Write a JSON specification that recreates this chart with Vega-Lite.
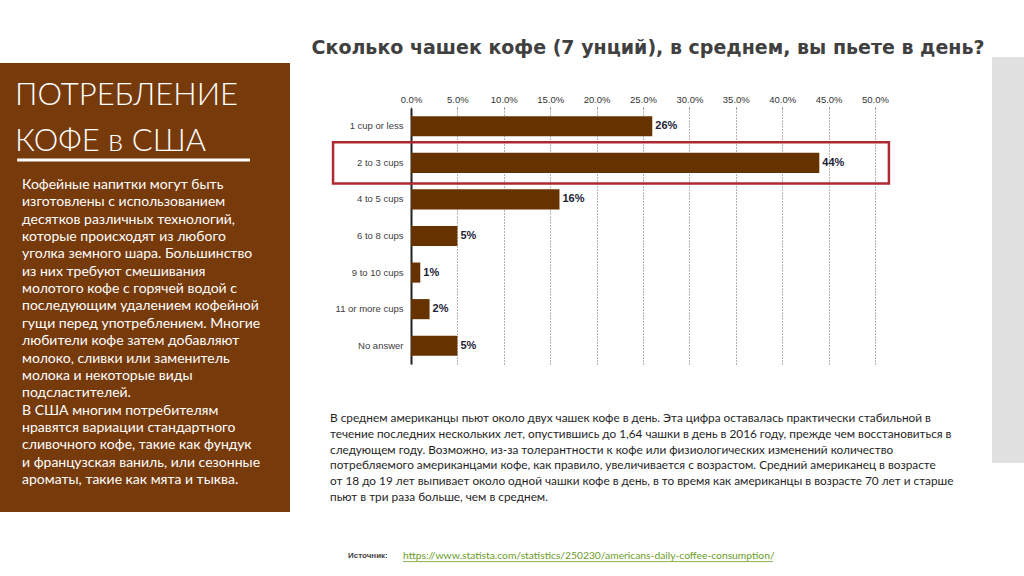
{
  "$schema": "https://vega.github.io/schema/vega-lite/v6.json",
  "padding": 0,
  "background": "#ffffff",
  "config": {"view": {"stroke": null}, "font": "Liberation Sans"},
  "bounds": "flush",
  "spacing": 0,
  "hconcat": [
    {
      "bounds": "flush",
      "spacing": 0,
      "vconcat": [
        {"width": 290, "height": 63, "data": {"values": []}, "mark": "point"},
        {
          "width": 290,
          "height": 449,
          "view": {"fill": "#773a0b", "stroke": null},
          "layer": [
            {
              "data": {"values": [{"i": 0, "t": "ПОТРЕБЛЕНИЕ"}, {"i": 1, "t": "КОФЕ в США"}]},
              "mark": {"type": "text", "align": "left", "baseline": "alphabetic", "font": "Lato", "fontSize": 31, "fontWeight": 300, "color": "#ffffff"},
              "encoding": {
                "x": {"datum": 0.052, "type": "quantitative", "scale": {"domain": [0, 1]}, "axis": null},
                "y": {"field": "i", "type": "ordinal", "axis": null, "scale": {"type": "point", "padding": 0, "range": [42, 88]}},
                "text": {"field": "t"}
              }
            },
            {
              "data": {"values": [{"mark": "underline"}]},
              "mark": {"type": "rule", "color": "#ffffff", "strokeWidth": 3},
              "encoding": {
                "x": {"datum": 0.059, "type": "quantitative", "scale": {"domain": [0, 1]}, "axis": null},
                "x2": {"datum": 0.862},
                "y": {"datum": 0.216, "type": "quantitative", "scale": {"domain": [0, 1], "reverse": true}, "axis": null}
              }
            },
            {
              "data": {"values": [
                {"i": 1, "t": "Кофейные напитки могут быть"},
                {"i": 2, "t": "изготовлены с использованием"},
                {"i": 3, "t": "десятков различных технологий,"},
                {"i": 4, "t": "которые происходят из любого"},
                {"i": 5, "t": "уголка земного шара.  Большинство"},
                {"i": 6, "t": "из них требуют смешивания"},
                {"i": 7, "t": "молотого кофе с горячей водой с"},
                {"i": 8, "t": "последующим удалением кофейной"},
                {"i": 9, "t": "гущи перед употреблением.  Многие"},
                {"i": 10, "t": "любители кофе затем добавляют"},
                {"i": 11, "t": "молоко, сливки или заменитель"},
                {"i": 12, "t": "молока и некоторые виды"},
                {"i": 13, "t": "подсластителей."},
                {"i": 14, "t": "В США многим потребителям"},
                {"i": 15, "t": "нравятся вариации стандартного"},
                {"i": 16, "t": "сливочного кофе, такие как фундук"},
                {"i": 17, "t": "и французская ваниль, или сезонные"},
                {"i": 18, "t": "ароматы, такие как мята и тыква."}
              ]},
              "mark": {"type": "text", "align": "left", "baseline": "middle", "font": "Lato", "fontSize": 14, "color": "#ffffff"},
              "encoding": {
                "x": {"datum": 0.076, "type": "quantitative", "scale": {"domain": [0, 1]}, "axis": null},
                "y": {"field": "i", "type": "ordinal", "axis": null, "scale": {"type": "point", "padding": 0, "range": [122, 417]}},
                "text": {"field": "t"}
              }
            }
          ],
          "resolve": {"scale": {"y": "independent"}}
        }
      ]
    },
    {"width": 411, "height": 10, "data": {"values": []}, "mark": "point"},
    {
      "bounds": "flush",
      "spacing": 0,
      "vconcat": [
        {"width": 464, "height": 108, "data": {"values": []}, "mark": "point"},
        {
          "width": 464,
          "height": 256,
          "title": {"text": "Сколько чашек кофе (7 унций), в среднем, вы пьете в день?", "font": "DejaVu Sans", "fontSize": 19, "fontWeight": "bold", "color": "#404040", "anchor": "middle", "frame": "group", "offset": 36, "dx": 5},
          "data": {"values": [
            {"cups": "1 cup or less", "share": 0.26},
            {"cups": "2 to 3 cups", "share": 0.44},
            {"cups": "4 to 5 cups", "share": 0.16},
            {"cups": "6 to 8 cups", "share": 0.05},
            {"cups": "9 to 10 cups", "share": 0.01},
            {"cups": "11 or more cups", "share": 0.02},
            {"cups": "No answer", "share": 0.05}
          ]},
          "encoding": {
            "y": {
              "field": "cups", "type": "nominal", "sort": null, "title": null,
              "scale": {"paddingInner": 0.45, "paddingOuter": 0.225},
              "axis": {"labelFont": "Liberation Sans", "labelFontSize": 9.5, "labelColor": "#404040", "ticks": false, "domain": true, "domainColor": "#222222", "domainWidth": 2, "labelPadding": 8, "grid": false}
            }
          },
          "layer": [
            {
              "mark": {"type": "bar", "color": "#663300"},
              "encoding": {
                "x": {
                  "field": "share", "type": "quantitative", "title": null,
                  "scale": {"domain": [0, 0.5]},
                  "axis": {"orient": "top", "values": [0, 0.05, 0.1, 0.15, 0.2, 0.25, 0.3, 0.35, 0.4, 0.45, 0.5], "format": ".1%", "labelFlush": false, "labelFont": "Liberation Sans", "labelFontSize": 9.5, "labelColor": "#333333", "domain": false, "ticks": true, "tickSize": 3, "tickDash": [1, 2], "tickColor": "#666666", "grid": true, "gridDash": [1, 2], "gridColor": "#666666", "gridWidth": 1, "labelPadding": 1}
                }
              }
            },
            {
              "mark": {"type": "text", "align": "left", "baseline": "middle", "dx": 3, "font": "Liberation Sans", "fontSize": 11, "fontWeight": "bold", "color": "#1d2236"},
              "encoding": {
                "x": {"field": "share", "type": "quantitative"},
                "text": {"field": "share", "type": "quantitative", "format": ".0%"}
              }
            },
            {
              "transform": [{"filter": "datum.cups === '2 to 3 cups'"}],
              "mark": {"type": "rect", "filled": false, "stroke": "#ad2a33", "strokeWidth": 2.5, "height": {"band": 2.05}},
              "encoding": {
                "x": {"datum": -0.084, "type": "quantitative"},
                "x2": {"datum": 0.515}
              }
            }
          ]
        },
        {"width": 464, "height": 46, "data": {"values": []}, "mark": "point"},
        {
          "width": 464,
          "height": 95,
          "data": {"values": [
            {"i": 1, "t": "В среднем американцы пьют около двух чашек кофе в день.  Эта цифра оставалась практически стабильной в"},
            {"i": 2, "t": "течение последних нескольких лет, опустившись до 1,64 чашки в день в 2016 году, прежде чем восстановиться в"},
            {"i": 3, "t": "следующем году.  Возможно, из-за толерантности к кофе или физиологических изменений количество"},
            {"i": 4, "t": "потребляемого американцами кофе, как правило, увеличивается с возрастом.  Средний американец в возрасте"},
            {"i": 5, "t": "от 18 до 19 лет выпивает около одной чашки кофе в день, в то время как американцы в возрасте 70 лет и старше"},
            {"i": 6, "t": "пьют в три раза больше, чем в среднем."}
          ]},
          "mark": {"type": "text", "align": "left", "baseline": "middle", "dx": -81, "font": "Lato", "fontSize": 11.8, "color": "#1f1f1f"},
          "encoding": {
            "x": {"datum": 0, "type": "quantitative", "scale": {"domain": [0, 1]}, "axis": null},
            "y": {"field": "i", "type": "ordinal", "axis": null},
            "text": {"field": "t"}
          }
        },
        {"width": 464, "height": 41, "data": {"values": []}, "mark": "point"},
        {
          "width": 464,
          "height": 20,
          "layer": [
            {
              "data": {"values": [{"t": "Источник:"}]},
              "mark": {"type": "text", "align": "left", "baseline": "middle", "dx": -63, "font": "Liberation Sans", "fontSize": 8, "fontWeight": "bold", "color": "#444444"},
              "encoding": {
                "x": {"datum": 0, "type": "quantitative", "scale": {"domain": [0, 1]}, "axis": null},
                "text": {"field": "t"}
              }
            },
            {
              "data": {"values": [{"t": "https://www.statista.com/statistics/250230/americans-daily-coffee-consumption/"}]},
              "mark": {"type": "text", "align": "left", "baseline": "middle", "dx": -8, "font": "Lato", "fontSize": 10.3, "color": "#6a9c1f"},
              "encoding": {
                "x": {"datum": 0, "type": "quantitative", "scale": {"domain": [0, 1]}, "axis": null},
                "text": {"field": "t"}
              }
            },
            {
              "data": {"values": [{"mark": "link underline"}]},
              "mark": {"type": "rule", "color": "#6a9c1f", "strokeWidth": 0.8},
              "encoding": {
                "x": {"datum": -0.0172, "type": "quantitative", "scale": {"domain": [0, 1]}, "axis": null},
                "x2": {"datum": 0.78},
                "y": {"datum": 0.78, "type": "quantitative", "scale": {"domain": [0, 1], "reverse": true}, "axis": null}
              }
            }
          ]
        }
      ]
    },
    {"width": 581, "height": 10, "data": {"values": []}, "mark": "point"},
    {
      "bounds": "flush",
      "spacing": 0,
      "vconcat": [
        {"width": 32, "height": 57, "data": {"values": []}, "mark": "point"},
        {"width": 32, "height": 406, "view": {"fill": "#e1e1e1", "stroke": null}, "data": {"values": []}, "mark": "point"}
      ]
    }
  ]
}
